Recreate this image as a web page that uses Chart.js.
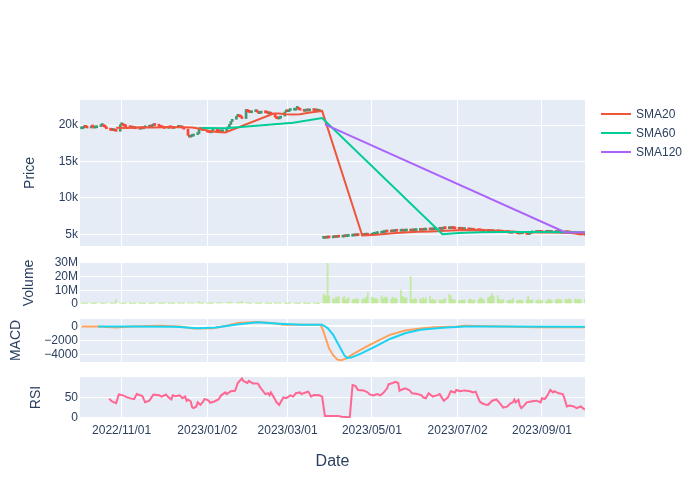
<!DOCTYPE html>
<html>
<head>
<meta charset="utf-8">
<script src="https://cdn.jsdelivr.net/npm/chart.js@4.4.0/dist/chart.umd.min.js"></script>
<style>
  body { margin: 0; background: #fff; }
  #wrap { position: relative; width: 700px; height: 500px; font-family: 'Liberation Sans', Arial, sans-serif; }
  canvas { position: absolute; left: 0; }
  #legend { position: absolute; left: 601px; top: 104px; font-size: 12px; color: #2a3f5f; }
  #legend div { height: 19px; display: flex; align-items: center; }
  #legend span { display: inline-block; width: 30px; height: 2px; margin-right: 5px; }
</style>
</head>
<body>
<div id="wrap">
  <canvas id="price" width="700" height="170" style="top:88px;width:700px;height:170px"></canvas>
  <canvas id="volume" width="700" height="66" style="top:250px;width:700px;height:66px"></canvas>
  <canvas id="macd" width="700" height="67" style="top:307px;width:700px;height:67px"></canvas>
  <canvas id="rsi" width="700" height="123" style="top:365px;width:700px;height:123px"></canvas>
  <div id="legend">
    <div><span style="background:#EF553B"></span>SMA20</div>
    <div><span style="background:#00CC96"></span>SMA60</div>
    <div><span style="background:#AB63FA"></span>SMA120</div>
  </div>
</div>
<script>
// x tick labels (dates)
const tickLabels = ['2022/11/01', '2023/01/02', '2023/03/01', '2023/05/01', '2023/07/02', '2023/09/01'];
// y tick values per panel
const priceTicks = [5000, 10000, 15000, 20000];
const volumeTicks = [0, 10, 20, 30];
const macdTicks = [-4000, -2000, 0];
const rsiTicks = [0, 50];

// daily closes, one row per trading week (before and after the break)
const closeBefore = [
  19500, 19650, 19800, 19700, 19600,
  19900, 19750, 19600, 19650, 19800,
  19950, 20050, 19800, 19700, 19500,
  19300, 19250, 19350, 19200, 19150,
  20050, 20100, 19950, 19850, 19750,
  19650, 19600, 19700, 19550, 19500,
  19450, 19550, 19500, 19650, 19700,
  19800, 19750, 19900, 20000, 19950,
  19850, 19700, 19650, 19600, 19550,
  19700, 19650, 19600, 19550, 19700,
  19750, 19650, 19700, 19600, 19450,
  18600, 18350, 18450, 18500, 18700,
  18850, 19400, 19550, 19300, 19250,
  19050, 19000, 18950, 19200, 19350,
  19150, 19100, 19050, 19100, 19200,
  19500, 19800, 20100, 20500, 20800,
  21200, 21300, 21150, 21100, 20900,
  22150, 21850, 21750, 21700, 21850,
  21900, 21800, 21600, 21650, 21750,
  21700, 21650, 21550, 21600, 21500,
  21100, 20900, 20850, 20950, 21250,
  21800, 21900, 21850, 22000, 22050,
  22050, 22300, 22350, 22150, 22050,
  21900, 21950, 22000, 21950, 22050,
  22000, 21950, 22050, 21900, 22000
];
const closeAfter = [
  4450, 4500, 4480, 4550, 4520,
  4550, 4600, 4580, 4650, 4620,
  4650, 4700, 4680, 4720, 4750,
  4780, 4820, 4800, 4850, 4830,
  4880, 4850, 4900, 4920, 4880,
  4950, 4990, 5050, 5100, 5150,
  5200, 5250, 5300, 5350, 5320,
  5380, 5350, 5400, 5450, 5420,
  5450, 5480, 5420, 5470, 5500,
  5450, 5500, 5480, 5520, 5550,
  5580, 5550, 5600, 5580, 5620,
  5600, 5650, 5620, 5680, 5700,
  5720, 5680, 5750, 5800, 5780,
  5820, 5780, 5850, 5800, 5750,
  5700, 5750, 5680, 5650, 5700,
  5620, 5580, 5600, 5550, 5520,
  5500, 5480, 5450, 5420, 5450,
  5400, 5380, 5420, 5350, 5380,
  5350, 5320, 5300, 5350, 5280,
  5250, 5200, 5150, 5220, 5180,
  5100, 5050, 5120, 5080, 5150,
  5000, 4980, 5100, 5200, 5250,
  5280, 5250, 5300, 5270, 5250,
  5300, 5280, 5320, 5260, 5300,
  5250, 5280, 5300, 5250, 5220,
  5250, 5220, 5200, 5180, 5150,
  5100, 5050, 5000, 4950, 4900,
  4880
];

// daily volume in millions
const volBefore = [
  0.5, 0.4, 0.6, 0.4, 0.5,
  0.4, 0.5, 0.3, 0.4, 0.6,
  0.5, 0.4, 0.4, 0.7, 0.5,
  0.4, 0.5, 0.6, 0.4, 3.0,
  0.6, 0.4, 0.5, 0.3, 0.4,
  0.4, 0.3, 0.5, 0.4, 0.4,
  0.3, 0.5, 0.4, 0.4, 0.3,
  0.4, 0.3, 0.5, 0.4, 0.6,
  0.5, 0.4, 0.3, 0.4, 0.5,
  0.4, 0.6, 0.5, 0.4, 0.3,
  0.5, 0.4, 0.8, 0.5, 0.4,
  0.6, 0.7, 0.9, 0.6, 0.5,
  0.5, 1.5, 0.6, 0.4, 0.5,
  0.4, 0.5, 0.4, 0.3, 0.5,
  0.6, 0.9, 1.0, 0.8, 0.7,
  1.0, 0.9, 1.2, 1.1, 0.8,
  0.9, 1.0, 1.2, 1.1, 2.0,
  0.8, 0.6, 0.5, 0.4, 0.5,
  0.4, 0.5, 0.4, 0.3, 0.4,
  0.5, 0.4, 0.6, 0.4, 0.3,
  0.4, 0.5, 0.8, 0.5, 0.4,
  0.4, 0.3, 0.4, 0.5, 0.4,
  0.4, 0.5, 0.4, 0.3, 0.4,
  0.3, 0.4, 0.5, 0.4, 0.3,
  0.4, 0.5, 0.4, 0.3, 0.4
];
const volAfter = [
  7.0, 6.5, 5.5, 29.5, 6.0,
  4.0, 3.0, 5.0, 4.5, 5.5,
  4.5, 5.5, 3.0, 3.5, 4.5,
  3.0, 3.5, 3.0, 4.0, 3.5,
  3.0, 4.0, 3.5, 5.0, 8.0,
  5.0, 4.5, 4.0, 4.0, 3.5,
  6.0, 4.0, 4.5, 5.0, 4.5,
  3.5, 5.0, 4.0, 4.5, 3.5,
  10.0, 5.5, 5.0, 4.0, 4.5,
  20.0, 3.5, 3.0, 4.0, 3.5,
  4.0, 3.0, 4.5, 3.0, 4.5,
  5.5, 3.0, 3.5, 2.5, 3.0,
  3.0, 2.5, 3.0, 3.5, 4.0,
  7.0, 6.0, 3.5, 3.0, 3.0,
  2.5, 2.5, 3.0, 2.5, 3.0,
  3.0, 4.0, 3.0, 2.5, 3.0,
  3.0, 4.0, 4.5, 3.5, 3.0,
  4.5, 5.0, 6.0, 7.5, 5.5,
  6.0, 3.5, 3.0, 2.5, 3.5,
  2.5, 2.5, 3.0, 2.5, 4.0,
  2.5, 2.5, 3.0, 2.5, 2.5,
  3.0, 5.5, 3.0, 2.5, 3.0,
  2.5, 3.0, 2.0, 3.0, 2.5,
  2.0, 3.0, 3.5, 3.0, 2.5,
  3.0, 3.5, 3.0, 3.5, 3.0,
  3.5, 3.0, 3.5, 3.5, 3.0,
  3.5, 3.0, 3.5, 3.5, 3.0,
  3.5
];

// moving averages: day offsets from 2022-10-01 and values
const sma20Day = [27, 35, 45, 55, 65, 75, 82, 88, 94, 100, 106, 141, 145, 150, 155, 160, 165, 170, 176, 205, 215, 225, 235, 245, 255, 265, 275, 285, 295, 305, 315, 325, 335, 345, 355, 366];
const sma20Val = [19650, 19620, 19700, 19660, 19750, 19700, 19680, 19500, 19200, 19050, 19000, 21580, 21600, 21500, 21450, 21500, 21650, 21800, 21950, 4850, 4950, 5100, 5250, 5350, 5400, 5480, 5550, 5600, 5550, 5450, 5350, 5280, 5250, 5260, 5200, 5000];
const sma60Day = [89, 106, 155, 176, 263, 275, 290, 305, 320, 335, 350, 366];
const sma60Val = [19600, 19580, 20330, 20980, 5030, 5200, 5280, 5320, 5330, 5320, 5300, 5280];
const sma120Day = [178, 352, 366];
const sma120Val = [20100, 5255, 5280];

// MACD and signal
const macdDay = [2, 14, 27, 38, 59, 73, 83, 97, 107, 115, 129, 140, 148, 161, 175, 177, 179, 181, 184, 187, 190, 193, 199, 207, 215, 225, 236, 247, 257, 274, 279, 306, 332, 366];
const macdVal = [0, 0, -150, 0, 100, 0, -290, -240, 100, 480, 630, 480, 240, 240, 240, -720, -1930, -3130, -4100, -4720, -4820, -4580, -3860, -2990, -2170, -1200, -580, -290, -100, 0, 100, 0, -100, -100];
const signalDay = [14, 38, 70, 86, 99, 113, 129, 145, 161, 176, 180, 184, 188, 192, 194, 197, 204, 215, 225, 236, 247, 263, 279, 306, 366];
const signalVal = [0, 0, -50, -240, -150, 240, 580, 390, 240, 240, -240, -1200, -2650, -4100, -4480, -4430, -3860, -2800, -1780, -960, -480, -190, 0, 0, -50];

// RSI
const rsiDay = [22, 24, 27, 29, 32, 35, 38, 40, 42, 46, 48, 51, 53, 54, 58, 60, 63, 65, 67, 68, 70, 73, 75, 77, 78, 79, 81, 82, 83, 85, 86, 88, 90, 91, 93, 94, 95, 98, 101, 103, 106, 107, 110, 113, 114, 115, 118, 119, 122, 123, 126, 129, 130, 131, 134, 135, 137, 138, 139, 142, 143, 145, 146, 148, 150, 153, 155, 157, 160, 161, 164, 166, 168, 170, 174, 176, 178, 188, 190, 196, 198, 200, 202, 206, 209, 210, 213, 216, 218, 220, 223, 224, 227, 229, 231, 232, 233, 236, 239, 241, 245, 248, 249, 251, 253, 256, 259, 261, 264, 267, 269, 272, 273, 276, 279, 283, 285, 287, 290, 292, 294, 296, 299, 302, 304, 307, 310, 312, 314, 315, 316, 318, 319, 320, 322, 324, 327, 331, 334, 335, 337, 339, 341, 343, 344, 347, 350, 351, 353, 355, 358, 360, 363, 366];
const rsiVal = [47, 40, 36, 57, 55, 50, 47, 46, 58, 53, 38, 42, 52, 57, 55, 52, 57, 50, 45, 55, 53, 55, 48, 52, 42, 45, 40, 26, 24, 28, 38, 32, 40, 46, 44, 42, 37, 40, 45, 55, 62, 58, 65, 66, 75, 85, 96, 90, 85, 90, 84, 84, 82, 75, 62, 58, 60, 55, 62, 45, 38, 32, 38, 50, 48, 55, 52, 60, 62, 58, 62, 64, 52, 56, 55, 52, 5, 5, 3, 2, 80, 78, 68, 67, 62, 58, 55, 58, 55, 60, 72, 82, 85, 88, 85, 66, 68, 72, 68, 60, 58, 55, 50, 48, 60, 52, 55, 58, 42, 50, 65, 62, 68, 65, 67, 65, 62, 64, 40, 35, 33, 32, 42, 45, 38, 25, 28, 35, 38, 45, 38, 44, 30, 24, 30, 38, 40, 42, 38, 48, 46, 55, 68, 62, 65, 60, 58, 50, 28, 30, 28, 24, 28, 20];

Chart.defaults.font.family = "'Liberation Sans', Arial, sans-serif";
Chart.defaults.font.size = 12;
Chart.defaults.color = '#2a3f5f';

const origin = Date.UTC(2022, 9, 1);
function dayOf(s) {
  const p = s.split(/[\/-]/).map(Number);
  return (Date.UTC(p[0], p[1] - 1, p[2]) - origin) / 864e5;
}
function tradingDays(start, n) {
  let d = dayOf(start);
  const out = [];
  while (out.length < n) {
    const wd = new Date(origin + d * 864e5).getUTCDay();
    if (wd !== 0 && wd !== 6) out.push(d);
    d++;
  }
  return out;
}
function pts(days, vals) {
  return days.map((d, i) => ({ x: d, y: vals[i] }));
}
function candleSet(start, closes) {
  const days = tradingDays(start, closes.length);
  return closes.map((c, i) => ({ x: days[i], y: [i ? closes[i - 1] : c, c] }));
}

const tickDays = tickLabels.map(dayOf);
const xMin = 0.9, xMax = 366.1;

const candles = candleSet('2022-10-03', closeBefore).concat(candleSet('2023-03-27', closeAfter));
const candleColors = candles.map(p => p.y[1] >= p.y[0] ? '#3D9970' : '#FF4136');
const volume = pts(tradingDays('2022-10-03', volBefore.length), volBefore)
  .concat(pts(tradingDays('2023-03-27', volAfter.length), volAfter));

// plot background like plotly
const plotBg = {
  id: 'plotBg',
  beforeDraw(chart) {
    const { ctx, chartArea: a } = chart;
    ctx.save();
    ctx.fillStyle = '#E5ECF6';
    ctx.fillRect(a.left, a.top, a.right - a.left, a.bottom - a.top);
    ctx.restore();
  }
};

function line(label, data, color, order) {
  return { type: 'line', label: label, data: data, borderColor: color, borderWidth: 2,
           pointRadius: 0, tension: 0, fill: false, order: order };
}

function makeChart(id, datasets, y, bottom) {
  return new Chart(document.getElementById(id), {
    type: 'line',
    data: { datasets: datasets },
    options: {
      responsive: false,
      animation: false,
      events: [],
      layout: { padding: { top: 12, bottom: bottom ? 0 : 12, left: 0, right: 115 } },
      plugins: { legend: { display: false }, tooltip: { enabled: false } },
      scales: {
        x: {
          type: 'linear', min: xMin, max: xMax, offset: false,
          grid: { color: '#ffffff', drawTicks: false, offset: false },
          border: { display: false },
          afterBuildTicks: s => { s.ticks = tickDays.map(v => ({ value: v })); },
          afterFit: s => { s.height = bottom ? 70 : 0; },
          ticks: { display: bottom, autoSkip: false, maxRotation: 0, minRotation: 0, padding: 5,
                   callback: (v, i) => tickLabels[i] },
          title: { display: bottom, text: 'Date', font: { size: 16 }, padding: { top: 0, bottom: 17 } }
        },
        y: {
          min: y.min, max: y.max,
          grid: { color: '#ffffff', drawTicks: false,
                  lineWidth: c => (c.tick && c.tick.value === 0 ? 2 : 1) },
          border: { display: false },
          afterBuildTicks: s => { s.ticks = y.ticks.map(v => ({ value: v })); },
          afterFit: s => { s.width = 80; },
          ticks: { autoSkip: false, padding: 2, callback: (v, i) => y.fmt(y.ticks[i]) },
          title: { display: true, text: y.title, font: { size: 14 }, padding: { top: y.titlePad, bottom: 0 } }
        }
      }
    },
    plugins: [plotBg]
  });
}

// Price
makeChart('price', [
  { type: 'bar', label: 'Candles', data: candles, backgroundColor: candleColors,
    borderWidth: 0, barThickness: 2, minBarLength: 2, grouped: false, order: 4 },
  line('SMA20', pts(sma20Day, sma20Val), '#EF553B', 3),
  line('SMA60', pts(sma60Day, sma60Val), '#00CC96', 2),
  line('SMA120', pts(sma120Day, sma120Val), '#AB63FA', 1)
], { min: 3400, max: 23450, ticks: priceTicks, title: 'Price', titlePad: 22, fmt: v => v / 1000 + 'k' }, false);

// Volume
makeChart('volume', [
  { type: 'bar', label: 'Volume', data: volume, backgroundColor: 'rgba(182,232,128,0.7)',
    borderWidth: 0, barThickness: 1.2, grouped: false }
], { min: 0, max: 30.5, ticks: volumeTicks, title: 'Volume', titlePad: 21, fmt: v => v === 0 ? '0' : v + 'M' }, false);

// MACD
makeChart('macd', [
  line('MACD', pts(macdDay, macdVal), '#FFA15A', 1),
  line('Signal', pts(signalDay, signalVal), '#19D3F3', 0)
], { min: -5060, max: 1060, ticks: macdTicks, title: 'MACD', titlePad: 8,
     fmt: v => v < 0 ? '\u2212' + (-v) : String(v) }, false);

// RSI
makeChart('rsi', [
  line('RSI', pts(rsiDay, rsiVal), '#FF6692', 0)
], { min: 0, max: 99.5, ticks: rsiTicks, title: 'RSI', titlePad: 28, fmt: v => String(v) }, true);
</script>
</body>
</html>
